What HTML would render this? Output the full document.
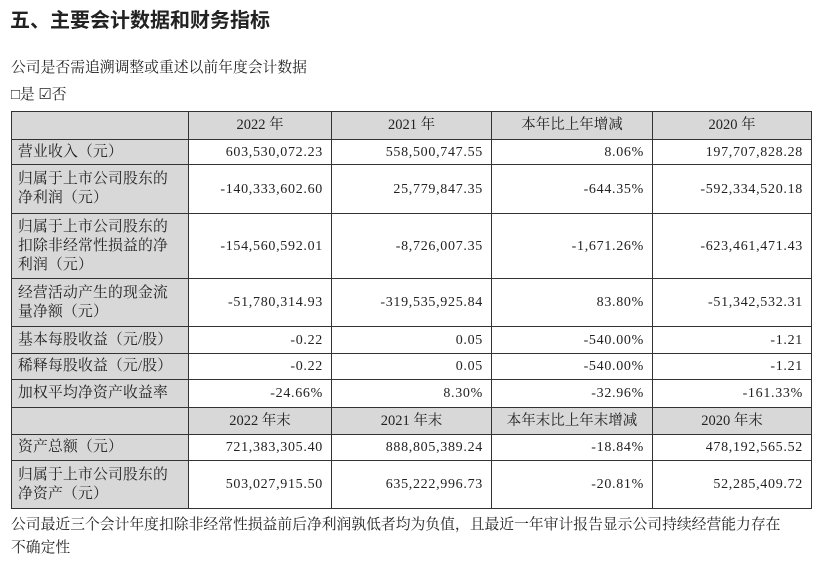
<!DOCTYPE html>
<html><head><meta charset="utf-8"><style>
body{margin:0;width:830px;height:565px;background:#fff;position:relative;font-family:"Liberation Serif","Noto Serif CJK SC",serif;color:#222;overflow:hidden}
.t{position:absolute;white-space:nowrap}
table{position:absolute;left:11px;top:111px;border-collapse:collapse;font-size:14px;table-layout:fixed}
td{border:1px solid #333;padding:0 8px;line-height:19px;overflow:hidden;white-space:nowrap}
td.l{background:#d8d8d8;text-align:left;padding-left:6px;font-size:14.8px;letter-spacing:0.2px}
tr.h td{background:#d8d8d8;text-align:center;font-size:14.5px}
td.n{text-align:right;letter-spacing:0.7px;padding-right:8px}
</style></head><body>
<div class="t" style="left:10px;top:4px;font-size:20px;font-weight:bold;font-family:'Noto Sans CJK SC',sans-serif">五、主要会计数据和财务指标</div>
<div class="t" style="left:11px;top:56px;font-size:14.8px">公司是否需追溯调整或重述以前年度会计数据</div>
<div class="t" style="left:11px;top:83px;font-size:14.8px">□是 ☑否</div>
<table>
<colgroup><col style="width:177px"><col style="width:143px"><col style="width:160px"><col style="width:161px"><col style="width:159px"></colgroup>
<tr class="h" style="height:28px"><td class="l"></td><td>2022 年</td><td>2021 年</td><td>本年比上年增减</td><td>2020 年</td></tr>
<tr style="height:25px"><td class="l">营业收入（元）</td><td class="n">603,530,072.23</td><td class="n">558,500,747.55</td><td class="n">8.06%</td><td class="n">197,707,828.28</td></tr>
<tr style="height:49px"><td class="l">归属于上市公司股东的<br>净利润（元）</td><td class="n">-140,333,602.60</td><td class="n">25,779,847.35</td><td class="n">-644.35%</td><td class="n">-592,334,520.18</td></tr>
<tr style="height:65px"><td class="l">归属于上市公司股东的<br>扣除非经常性损益的净<br>利润（元）</td><td class="n">-154,560,592.01</td><td class="n">-8,726,007.35</td><td class="n">-1,671.26%</td><td class="n">-623,461,471.43</td></tr>
<tr style="height:48px"><td class="l">经营活动产生的现金流<br>量净额（元）</td><td class="n">-51,780,314.93</td><td class="n">-319,535,925.84</td><td class="n">83.80%</td><td class="n">-51,342,532.31</td></tr>
<tr style="height:27px"><td class="l">基本每股收益（元/股）</td><td class="n">-0.22</td><td class="n">0.05</td><td class="n">-540.00%</td><td class="n">-1.21</td></tr>
<tr style="height:26px"><td class="l">稀释每股收益（元/股）</td><td class="n">-0.22</td><td class="n">0.05</td><td class="n">-540.00%</td><td class="n">-1.21</td></tr>
<tr style="height:28px"><td class="l">加权平均净资产收益率</td><td class="n">-24.66%</td><td class="n">8.30%</td><td class="n">-32.96%</td><td class="n">-161.33%</td></tr>
<tr class="h" style="height:27px"><td class="l"></td><td>2022 年末</td><td>2021 年末</td><td>本年末比上年末增减</td><td>2020 年末</td></tr>
<tr style="height:26px"><td class="l">资产总额（元）</td><td class="n">721,383,305.40</td><td class="n">888,805,389.24</td><td class="n">-18.84%</td><td class="n">478,192,565.52</td></tr>
<tr style="height:48px"><td class="l">归属于上市公司股东的<br>净资产（元）</td><td class="n">503,027,915.50</td><td class="n">635,222,996.73</td><td class="n">-20.81%</td><td class="n">52,285,409.72</td></tr>
</table>
<div class="t" style="left:11px;top:513px;font-size:14.8px">公司最近三个会计年度扣除非经常性损益前后净利润孰低者均为负值，且最近一年审计报告显示公司持续经营能力存在</div>
<div class="t" style="left:11px;top:536px;font-size:14.8px">不确定性</div>
</body></html>
